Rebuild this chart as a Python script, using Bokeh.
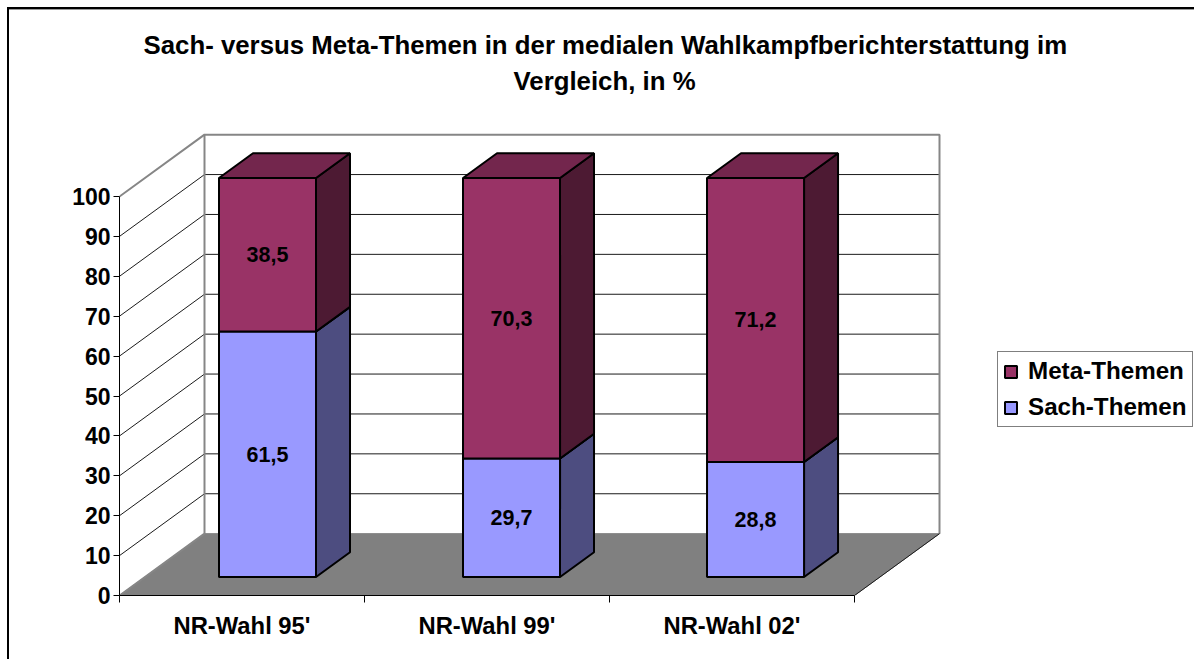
from bokeh.plotting import figure
from bokeh.embed import file_html
from bokeh.resources import INLINE
from bokeh.core.properties import value
from bokeh.models import FixedTicker, Legend, LegendItem, Range1d, Title

categories = ["NR-Wahl 95'", "NR-Wahl 99'", "NR-Wahl 02'"]
sach = [61.5, 29.7, 28.8]
meta = [38.5, 70.3, 71.2]
y_ticks = [0, 10, 20, 30, 40, 50, 60, 70, 80, 90, 100]
title_line_1 = "Sach- versus Meta-Themen in der medialen Wahlkampfberichterstattung im"
title_line_2 = "Vergleich, in %"

FONT = "Liberation Sans"
DX, DY = 85 / 245, 15.5          # depth of the 3D box in data units
D1, D2 = 0.3, 0.7                # bar's front/back as fraction of depth
HALF = 0.198
STEP = 0.996
ncat = len(categories)

p = figure(output_backend="svg", toolbar_location=None,
           frame_width=826, frame_height=465,
           min_border_left=119, min_border_right=249, min_border_top=130, min_border_bottom=64,
           x_range=Range1d(0, 826 / 245), y_range=Range1d(0, 465 / 3.99),
           background_fill_color="white", border_fill_color=None, outline_line_color=None)
p.grid.visible = False

# outer chart frame (runs off the right and bottom of the page)
p.styles = {"background": "linear-gradient(#000,#000) 7px 7px/100% 2px no-repeat, "
                          "linear-gradient(#000,#000) 7px 7px/2px 100% no-repeat, "
                          "linear-gradient(#999,#999) 9px 9px/100% 1px no-repeat, white"}

# walls and floor
p.patch([0, DX, DX, 0], [0, DY, 100 + DY, 100], fill_color="white", line_color=None)
p.quad(left=[DX], right=[ncat + DX], bottom=[DY], top=[100 + DY], fill_color="white", line_color=None)
p.patch([0, ncat, ncat + DX, DX], [0, 0, DY, DY], fill_color="#808080", line_color="#808080", line_width=1)

# gridlines
for v in y_ticks[1:-1]:
    p.line([0, DX, ncat + DX], [v, v + DY, v + DY], line_color="#1a1a1a", line_width=1)
p.line([0, DX, DX], [0, DY, 100 + DY], line_color="#868686", line_width=2)
p.line([0, DX, ncat + DX, ncat + DX], [100, 100 + DY, 100 + DY, DY], line_color="#868686", line_width=2)
p.line([ncat, ncat + DX], [0, DY], line_color="#1a1a1a", line_width=1)

# bars
fx, fy = D1 * DX, D1 * DY
bx, by = D2 * DX, D2 * DY
centers = [0.5 + i * STEP for i in range(ncat)]
legend_renderers = {}
for name, bases, vals, front, side, top in [
    ("Sach-Themen", [0, 0, 0], sach, "#9999FF", "#4D4D80", "#7373BF"),
    ("Meta-Themen", sach, meta, "#993366", "#4D1A33", "#73264D"),
]:
    for i in range(ncat):
        l = centers[i] - HALF + fx
        r = centers[i] + HALF + fx
        y0 = bases[i] + fy
        y1 = y0 + vals[i]
        s = bx - fx
        t = by - fy
        p.patch([r, r + s, r + s, r], [y0, y0 + t, y1 + t, y1], fill_color=side, line_color="black", line_width=2)
        p.patch([l, l + s, r + s, r], [y1, y1 + t, y1 + t, y1], fill_color=top, line_color="black", line_width=2)
    legend_renderers[name] = p.quad(
        left=[c - HALF + fx for c in centers],
        right=[c + HALF + fx for c in centers],
        bottom=[bases[i] + fy for i in range(ncat)],
        top=[bases[i] + vals[i] + fy for i in range(ncat)],
        fill_color=front, line_color="black", line_width=2)
    p.text(x=[c + fx for c in centers],
           y=[bases[i] + vals[i] / 2 + fy for i in range(ncat)],
           text=[f"{v:.1f}".replace(".", ",") for v in vals],
           text_font=value(FONT), text_font_style="bold", text_font_size="21.5px",
           text_color="black", text_align="center", text_baseline="middle")

# axes
ya = p.yaxis[0]
ya.ticker = FixedTicker(ticks=y_ticks)
ya.bounds = (0, 100)
ya.major_tick_in = 0
ya.major_tick_out = 6
ya.minor_tick_in = 0
ya.minor_tick_out = 0
ya.major_label_standoff = 3
ya.axis_line_width = 1
ya.major_label_text_font = FONT
ya.major_label_text_font_style = "bold"
ya.major_label_text_font_size = "23px"
ya.major_label_text_color = "black"

xa = p.xaxis[0]
xa.ticker = FixedTicker(ticks=[i + 0.5 for i in range(ncat)], minor_ticks=list(range(ncat + 1)))
xa.major_label_overrides = {i + 0.5: c for i, c in enumerate(categories)}
xa.bounds = (0, ncat)
xa.major_tick_in = 0
xa.major_tick_out = 0
xa.minor_tick_in = 0
xa.minor_tick_out = 7
xa.major_label_standoff = 9
xa.major_label_text_font = FONT
xa.major_label_text_font_style = "bold"
xa.major_label_text_font_size = "23.8px"
xa.major_label_text_color = "black"

# legend
legend = Legend(items=[LegendItem(label=n, renderers=[legend_renderers[n]]) for n in ["Meta-Themen", "Sach-Themen"]],
                location=(52, 168), orientation="vertical",
                glyph_width=15, glyph_height=15, label_standoff=10, spacing=8,
                padding=5, margin=0, border_line_color="black", border_line_width=1,
                background_fill_color="white", background_fill_alpha=1,
                label_text_font=FONT, label_text_font_style="bold", label_text_font_size="24.2px",
                label_text_color="black")
p.add_layout(legend, "right")

# empty strip between the title and the chart
p.add_layout(Title(text=" ", standoff=20, text_font=FONT, text_font_size="8px"), "above")

# title, one object per line so that each can be centred where the reference has it
for text, off, stand in [(title_line_2, 394, 6), (title_line_1, 24, 6)]:
    p.add_layout(Title(text=text, align="left", offset=off, standoff=stand, vertical_align="top",
                       text_font=FONT, text_font_style="bold", text_font_size="25.8px",
                       text_color="black"), "above")

open("out.html", "w").write(file_html(p, INLINE))
